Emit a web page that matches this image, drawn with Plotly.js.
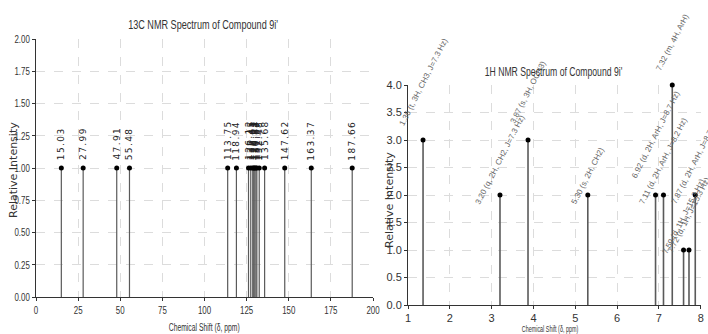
<!DOCTYPE html>
<html>
<head>
<meta charset="utf-8">
<script src="https://cdn.plot.ly/plotly-3.0.1.min.js"></script>
<style>
  html, body { margin: 0; padding: 0; background: #fff; }
  #chart { width: 708px; height: 334px; }
</style>
</head>
<body>
<div id="chart"></div>
<script>
// 13C NMR peaks (ppm) and relative intensities
const c13Shifts = [15.03, 27.99, 47.91, 55.48, 113.75, 118.94, 126.12, 127.45, 128.63,
                   129.21, 129.84, 130.52, 131.07, 132.48, 135.68, 147.62, 163.37, 187.66];
const c13Intensity = [1, 1, 1, 1, 1, 1, 1, 1, 1, 1, 1, 1, 1, 1, 1, 1, 1, 1];

// 1H NMR peaks (ppm), integrations and assignments
const h1Shifts = [1.36, 3.20, 3.87, 5.30, 6.92, 7.11, 7.32, 7.59, 7.72, 7.87];
const h1Intensity = [3, 2, 3, 2, 2, 2, 4, 1, 1, 2];
const h1Labels = [
  "1.36 (t, 3H, CH3, J=7.3 Hz)",
  "3.20 (q, 2H, CH2, J=7.3 Hz)",
  "3.87 (s, 3H, OCH3)",
  "5.30 (s, 2H, CH2)",
  "6.92 (d, 2H, ArH, J=8.7 Hz)",
  "7.11 (d, 2H, ArH, J=8.2 Hz)",
  "7.32 (m, 4H, ArH)",
  "7.59 (d, 1H, J=15.3 Hz)",
  "7.72 (d, 1H, J=15.3 Hz)",
  "7.87 (d, 2H, ArH, J=8.7 Hz)"
];

// axis ticks
const c13XTicks = [0, 25, 50, 75, 100, 125, 150, 175, 200];
const c13YTicks = [0, 0.25, 0.5, 0.75, 1, 1.25, 1.5, 1.75, 2];
const c13YTickText = ["0.00", "0.25", "0.50", "0.75", "1.00", "1.25", "1.50", "1.75", "2.00"];
const h1XTicks = [1, 2, 3, 4, 5, 6, 7, 8];
const h1YTicks = [0, 0.5, 1, 1.5, 2, 2.5, 3, 3.5, 4];
const h1YTickText = ["0.0", "0.5", "1.0", "1.5", "2.0", "2.5", "3.0", "3.5", "4.0"];

const W = 708, H = 334;
const SANS = "'Liberation Sans', Arial, sans-serif";
const WIDE = "'DejaVu Sans', sans-serif";

// stem segments: baseline to peak, separated by gaps
function stems(xs, ys) {
  const sx = [], sy = [];
  xs.forEach((x, i) => { sx.push(x, x, null); sy.push(0, ys[i], null); });
  return { x: sx, y: sy };
}

const c13Stem = stems(c13Shifts, c13Intensity);
const h1Stem = stems(h1Shifts, h1Intensity);

const traces = [
  { x: c13Stem.x, y: c13Stem.y, xaxis: 'x', yaxis: 'y', mode: 'lines',
    line: { color: '#5a5a5a', width: 1.2 }, hoverinfo: 'skip', showlegend: false },
  { x: c13Shifts, y: c13Intensity, xaxis: 'x', yaxis: 'y', mode: 'markers',
    marker: { color: '#000', size: 5 }, showlegend: false, cliponaxis: false },
  { x: h1Stem.x, y: h1Stem.y, xaxis: 'x2', yaxis: 'y2', mode: 'lines',
    line: { color: '#5a5a5a', width: 1.6 }, hoverinfo: 'skip', showlegend: false },
  { x: h1Shifts, y: h1Intensity, xaxis: 'x2', yaxis: 'y2', mode: 'markers',
    marker: { color: '#000', size: 5 }, showlegend: false, cliponaxis: false }
];

// pixel boxes of the two panels
const px = v => v / W;
const py = v => 1 - v / H;

function axisStyle(extra) {
  return Object.assign({
    showline: true, linecolor: '#333', linewidth: 1,
    ticks: 'outside', ticklen: 3, tickcolor: '#333',
    showgrid: true, gridcolor: '#dcdcdc', griddash: 'dash', gridwidth: 1,
    zeroline: false, tickfont: { family: SANS, size: 11, color: '#333' },
    fixedrange: true
  }, extra);
}

const annotations = [];

// 13C shift labels, vertical, above each peak
c13Shifts.forEach((s, i) => {
  annotations.push({
    xref: 'x', yref: 'y', x: s, y: c13Intensity[i], text: s.toFixed(2),
    showarrow: false, textangle: -90, xanchor: 'center', yanchor: 'bottom',
    yshift: 9, font: { family: WIDE, size: 9, color: '#222' }
  });
});

// 1H assignment labels, slanted; lift of the label box above (or below) each point
const h1Lift = [10, -13, 12, -13, 13, -13, 10, -8, -6, -13];
h1Shifts.forEach((s, i) => {
  annotations.push({
    xref: 'x2', yref: 'y2', x: s, y: h1Intensity[i], text: h1Labels[i],
    showarrow: false, textangle: -63, xanchor: 'center', yanchor: 'bottom',
    yshift: h1Lift[i], font: { family: SANS, size: 8, color: '#666' }
  });
});

// titles and axis titles (flagged ones get a narrow set afterwards)
const titles = [
  { x: 203, y: 25, text: "13C NMR Spectrum of Compound 9i'", size: 13, angle: 0, family: SANS, narrow: 0.7 },
  { x: 553, y: 72, text: "1H NMR Spectrum of Compound 9i'", size: 12, angle: 0, family: SANS, narrow: 0.72 },
  { x: 13, y: 170, text: "Relative Intensity", size: 11, angle: -90, family: WIDE, narrow: 0 },
  { x: 390, y: 200, text: "Relative Intensity", size: 11, angle: -90, family: WIDE, narrow: 0 },
  { x: 204, y: 327, text: "Chemical Shift (δ, ppm)", size: 10, angle: 0, family: SANS, narrow: 0.68 },
  { x: 550, y: 329, text: "Chemical Shift (δ, ppm)", size: 9, angle: 0, family: SANS, narrow: 0.6 }
];
const titleStart = annotations.length;
titles.forEach(t => annotations.push({
  xref: 'paper', yref: 'paper', x: px(t.x), y: py(t.y), text: t.text, textangle: t.angle,
  showarrow: false, xanchor: 'center', yanchor: 'middle',
  font: { family: t.family, size: t.size, color: '#333' }
}));

const layout = {
  width: W, height: H,
  margin: { l: 0, r: 0, t: 0, b: 0 },
  paper_bgcolor: '#fff', plot_bgcolor: '#fff',
  showlegend: false,
  xaxis: axisStyle({ domain: [px(36), px(373)], range: [0, 200], anchor: 'y',
    tickvals: c13XTicks }),
  yaxis: axisStyle({ domain: [py(297), py(39)], range: [0, 2], anchor: 'x',
    tickvals: c13YTicks, ticktext: c13YTickText }),
  xaxis2: axisStyle({ domain: [px(408), px(700.7)], range: [1, 8], anchor: 'y2',
    tickvals: h1XTicks, tickfont: { family: SANS, size: 11, color: '#333' } }),
  yaxis2: axisStyle({ domain: [py(305), py(85)], range: [0, 4], anchor: 'x2',
    tickvals: h1YTicks, ticktext: h1YTickText }),
  annotations: annotations
};

// squeeze or stretch a text element along its own direction, around its anchor
function setTextWidth(el, factor) {
  const len = el.getComputedTextLength();
  if (len > 0) {
    el.setAttribute('textLength', (len * factor).toFixed(1));
    el.setAttribute('lengthAdjust', factor < 1 ? 'spacingAndGlyphs' : 'spacing');
  }
}

Plotly.newPlot('chart', traces, layout, { displayModeBar: false, staticPlot: true }).then(gd => {
  gd.querySelectorAll('.xtick text, .ytick text').forEach(el => setTextWidth(el, 0.72));
  gd.querySelectorAll('.annotation').forEach(a => {
    const idx = +a.getAttribute('data-index');
    if (idx < c13Shifts.length) {
      // 13C shift values are set with open letter spacing
      a.querySelectorAll('text').forEach(el => setTextWidth(el, 1.22));
    } else if (idx >= titleStart) {
      const t = titles[idx - titleStart];
      if (t.narrow) a.querySelectorAll('text').forEach(el => setTextWidth(el, t.narrow));
    }
  });
});
</script>
</body>
</html>
